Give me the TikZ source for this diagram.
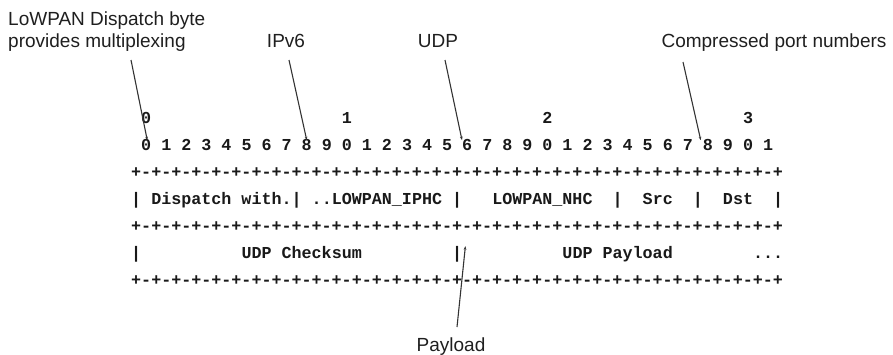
\documentclass[tikz,border=0pt]{standalone}
\usepackage{fontspec}
\setmainfont{Liberation Sans}
\setmonofont{Liberation Mono}
\usetikzlibrary{arrows.meta,calc}
\tikzset{
  lbl/.style={font=\fontsize{19}{22}\selectfont, text=black!88, inner sep=0pt},
  mono/.style={font=\fontsize{16.71}{27}\selectfont\ttfamily\bfseries, inner sep=0pt, anchor=base west, text=black!90},
  pointer/.style={line width=1.1pt, draw=black!80, -{Stealth[length=3.5pt,width=2.6pt]}},
}
\def\plusline{+-+-+-+-+-+-+-+-+-+-+-+-+-+-+-+-+-+-+-+-+-+-+-+-+-+-+-+-+-+-+-+-+}
\begin{document}
\begin{tikzpicture}[x=1pt,y=-1pt]
\useasboundingbox (0,0) rectangle (893,354);
\def\xo{131}\def\cw{10.03}
% header row
\node[mono] (h0) at ({\xo+1*\cw},123.5) {0};
\node[mono] (h1) at ({\xo+21*\cw},123.5) {1};
\node[mono] (h2) at ({\xo+41*\cw},123.5) {2};
\node[mono] (h3) at ({\xo+61*\cw},123.5) {3};
% bit numbers
\foreach \i in {0,...,31} {
  \pgfmathtruncatemacro\dg{mod(\i,10)}
  \node[mono] (d\i) at ({\xo+(2*\i+1)*\cw},150.5) {\dg};
}
% separator lines
\node[mono] (p1) at (\xo,177.5) {\plusline};
\node[mono] (p2) at (\xo,231.5) {\plusline};
\node[mono] (p3) at (\xo,285.5) {\plusline};
% first field row
\node[mono] (ra0)  at ({\xo+0*\cw},204.5) {|};
\node[mono] (disp) at ({\xo+2*\cw},204.5) {Dispatch with.};
\node[mono] (ra16) at ({\xo+16*\cw},204.5) {|};
\node[mono] (iphc) at ({\xo+18*\cw},204.5) {..LOWPAN\_IPHC};
\node[mono] (ra32) at ({\xo+32*\cw},204.5) {|};
\node[mono] (nhc)  at ({\xo+36*\cw},204.5) {LOWPAN\_NHC};
\node[mono] (ra48) at ({\xo+48*\cw},204.5) {|};
\node[mono] (src)  at ({\xo+51*\cw},204.5) {Src};
\node[mono] (ra56) at ({\xo+56*\cw},204.5) {|};
\node[mono] (dst)  at ({\xo+59*\cw},204.5) {Dst};
\node[mono] (ra64) at ({\xo+64*\cw},204.5) {|};
% second field row
\node[mono] (rb0)  at ({\xo+0*\cw},258.5) {|};
\node[mono] (csum) at ({\xo+11*\cw},258.5) {UDP Checksum};
\node[mono] (rb32) at ({\xo+32*\cw},258.5) {|};
\node[mono] (pay)  at ({\xo+43*\cw},258.5) {UDP Payload};
\node[mono] (dots) at ({\xo+62*\cw},258.5) {...};
% labels
\node[lbl, anchor=north west, align=left] (lowpan) at (8,11.2) {LoWPAN Dispatch byte\\provides multiplexing};
\node[lbl, anchor=base] (ipv6) at (286,47) {IPv6};
\node[lbl, anchor=base] (udp) at (438,47) {UDP};
\node[lbl, anchor=base] (comp) at (774,47) {Compressed port numbers};
\node[lbl, anchor=base] (payl) at (451,351.5) {Payload};
% pointer start points
\coordinate (s1) at (131,60);
\coordinate (s2) at (289,60);
\coordinate (s3) at (445,60);
\coordinate (s4) at (683,62);
\coordinate (s5) at (457,327);
\draw[pointer] (s1) -- ($(d0.north)+(1,1)$);
\draw[pointer] (s2) -- ($(d8.north)+(0,1)$);
\draw[pointer] (s3) -- ($(d16.north west)+(0,1)$);
\draw[pointer] (s4) -- ($(d28.north west)+(-2,1)$);
\draw[pointer] (s5) -- ($(rb32.north east)+(3,0)$);
\end{tikzpicture}
\end{document}
